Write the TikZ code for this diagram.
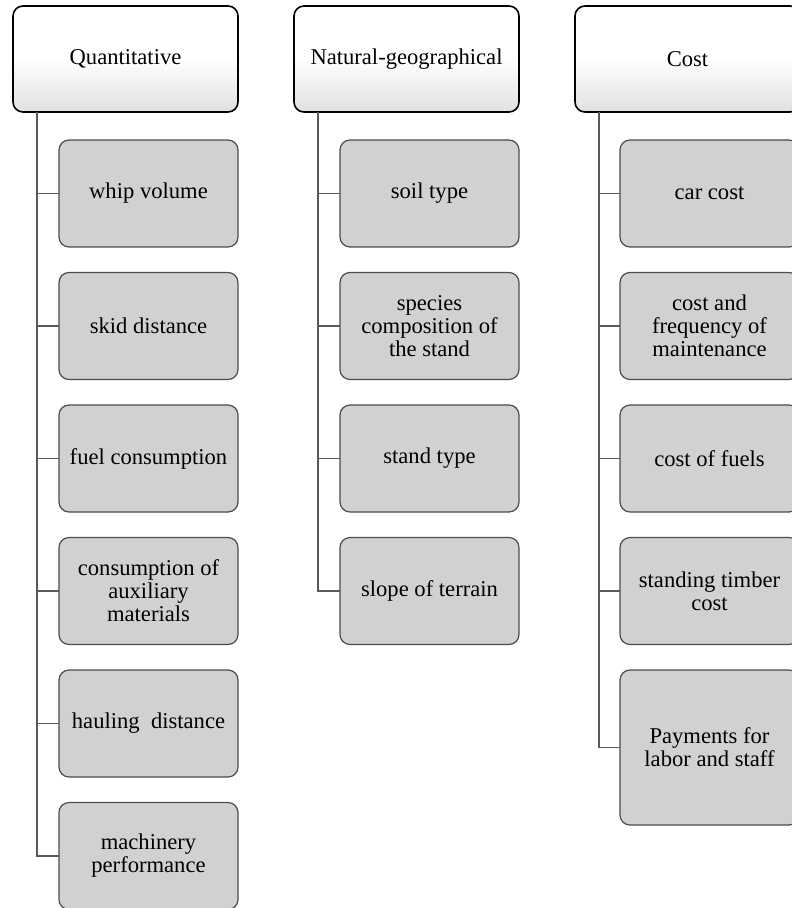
\documentclass[tikz,border=0pt]{standalone}
\usepackage{fontspec}
\setmainfont{Liberation Serif}
\usetikzlibrary{positioning}

\tikzset{
  head/.style={draw=black, line width=1.6pt, rounded corners=10pt,
    top color=white, bottom color=black!12, middle color=white,
    minimum width=225pt, minimum height=106pt, outer sep=0pt,
    align=center, font=\fontsize{22.6}{23}\selectfont},
  item/.style={draw=black!70, line width=1.2pt, rounded corners=10pt,
    fill=black!18, minimum width=179pt, minimum height=107pt,
    outer sep=0pt, inner sep=0pt,
    align=center, font=\fontsize{22.6}{23}\selectfont},
  link/.style={draw=black!65, line width=1.2pt}
}

\begin{document}
\begin{tikzpicture}[x=1pt,y=1pt]
    \useasboundingbox (0,0) rectangle (792,-908);

    % headers
    \node[head] (quant) at (125.5,-59) {Quantitative};
    \node[head] (natgeo) at (406.5,-59) {Natural-geographical};
    \node[head] (cost) at (687.5,-59) {Cost};

    % Quantitative
    \node[item] (q1) at (148.5,-193.5) {whip volume};
    \node[item, below=25.5pt of q1] (q2) {skid distance};
    \node[item, below=25.5pt of q2] (q3) {fuel consumption};
    \node[item, below=25.5pt of q3] (q4) {consumption of\\auxiliary\\materials};
    \node[item, below=25.5pt of q4] (q5) {hauling~~distance};
    \node[item, below=25.5pt of q5] (q6) {machinery\\performance};

    % Natural-geographical
    \node[item] (n1) at (429.5,-193.5) {soil type};
    \node[item, below=25.5pt of n1] (n2) {species\\composition of\\the stand};
    \node[item, below=25.5pt of n2] (n3) {stand type};
    \node[item, below=25.5pt of n3] (n4) {slope of terrain};

    % Cost
    \node[item] (c1) at (709.5,-193.5) {car cost};
    \node[item, below=25.5pt of c1] (c2) {cost and\\frequency of\\maintenance};
    \node[item, below=25.5pt of c2] (c3) {cost of fuels};
    \node[item, below=25.5pt of c3] (c4) {standing timber\\cost};
    \node[item, below=25.5pt of c4, minimum height=155pt] (c5) {Payments for\\labor and staff};

    % trunks
    \coordinate (qtrunk) at ([xshift=24pt]quant.south west);
    \coordinate (ntrunk) at ([xshift=24pt]natgeo.south west);
    \coordinate (ctrunk) at ([xshift=24pt]cost.south west);

    \draw[link] (qtrunk) |- (q6.west);
    \draw[link] (qtrunk |- q1.west) -- (q1.west);
    \draw[link] (qtrunk |- q2.west) -- (q2.west);
    \draw[link] (qtrunk |- q3.west) -- (q3.west);
    \draw[link] (qtrunk |- q4.west) -- (q4.west);
    \draw[link] (qtrunk |- q5.west) -- (q5.west);

    \draw[link] (ntrunk) |- (n4.west);
    \draw[link] (ntrunk |- n1.west) -- (n1.west);
    \draw[link] (ntrunk |- n2.west) -- (n2.west);
    \draw[link] (ntrunk |- n3.west) -- (n3.west);

    \draw[link] (ctrunk) |- (c5.west);
    \draw[link] (ctrunk |- c1.west) -- (c1.west);
    \draw[link] (ctrunk |- c2.west) -- (c2.west);
    \draw[link] (ctrunk |- c3.west) -- (c3.west);
    \draw[link] (ctrunk |- c4.west) -- (c4.west);

\end{tikzpicture}
\end{document}
